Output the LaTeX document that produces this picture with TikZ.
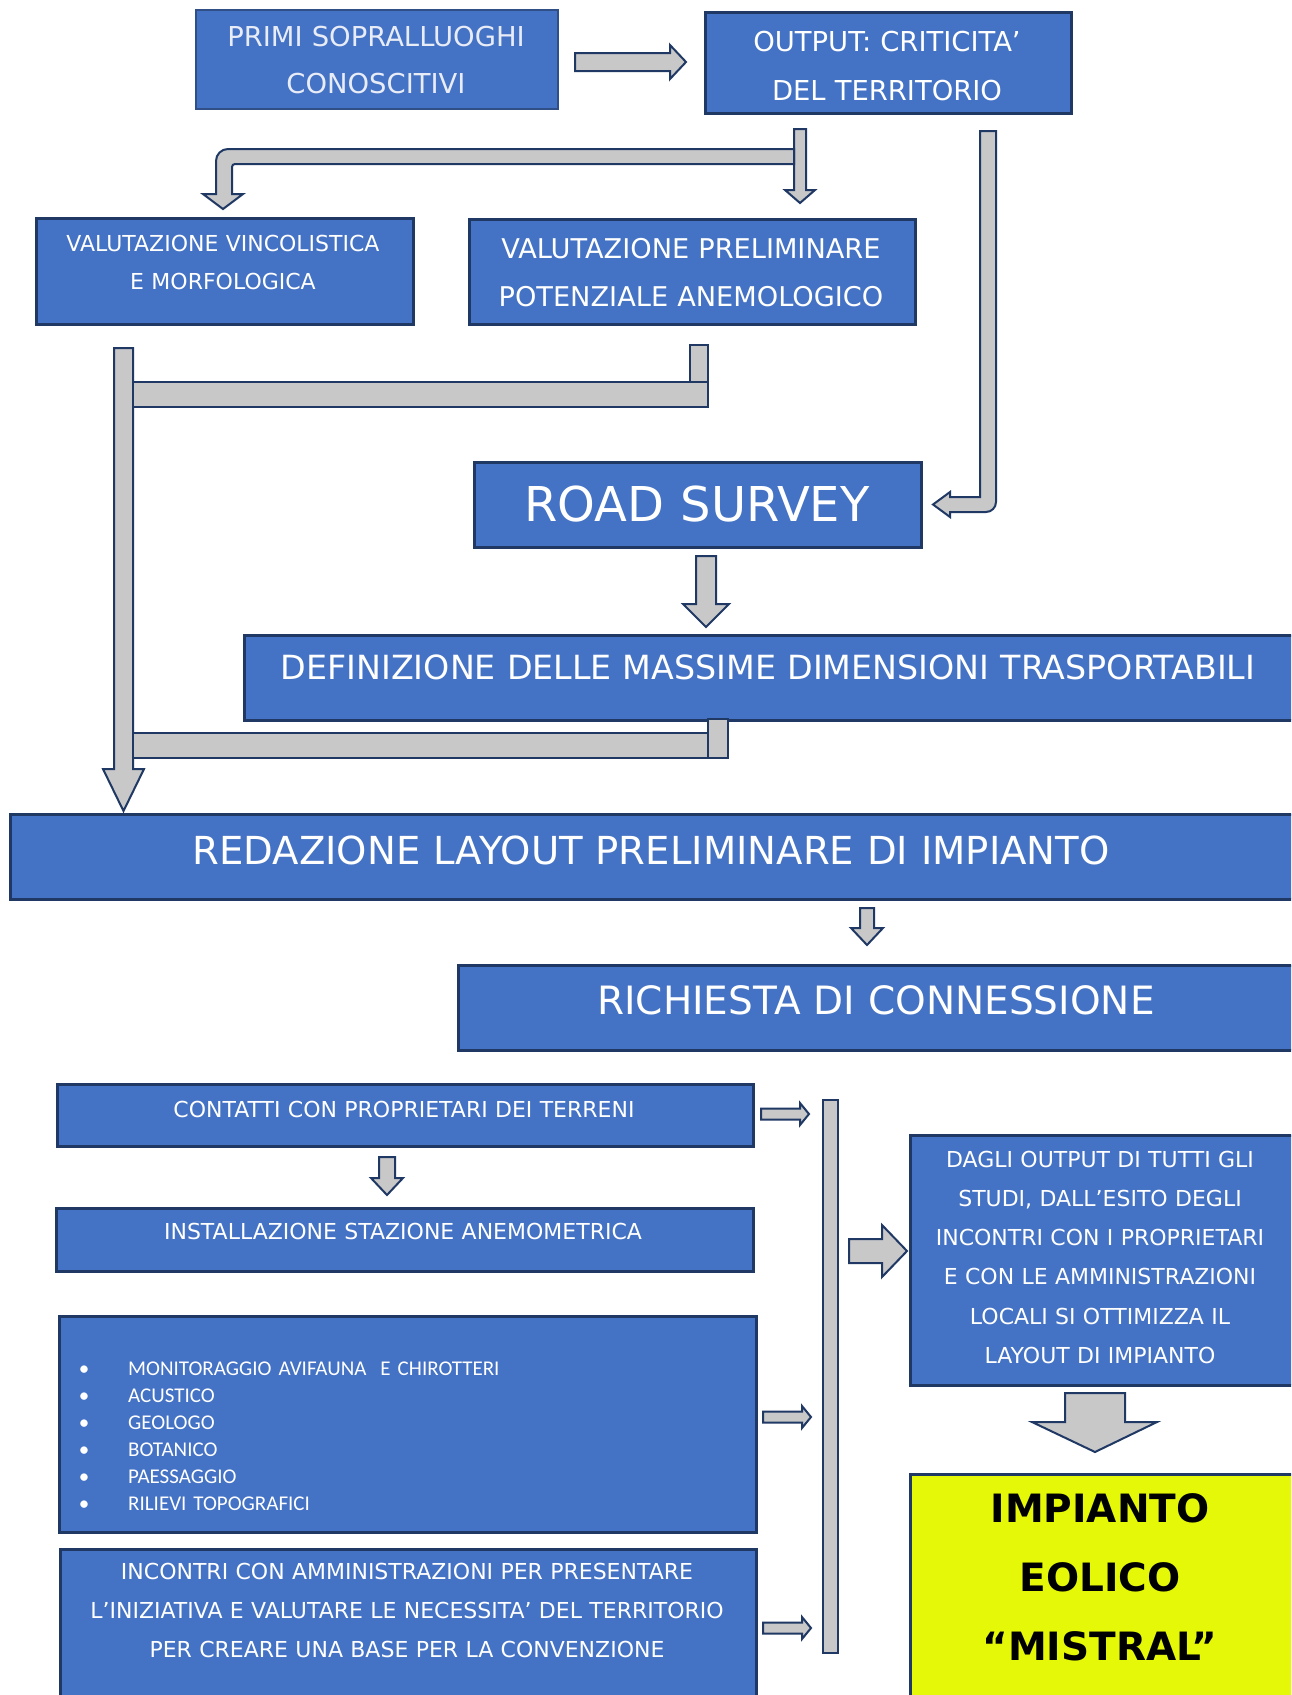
\documentclass[tikz,border=0pt]{standalone}
\usepackage{fontspec}
\setmainfont{DejaVu Sans}
\newfontfamily\calibrifont{Carlito}

\definecolor{boxblue}{HTML}{4472C4}
\definecolor{navy}{HTML}{1F3864}
\definecolor{edgeblue}{HTML}{2F4F86}
\definecolor{arrowgray}{HTML}{C8C8C8}
\definecolor{limebox}{HTML}{E4F807}
\definecolor{paletext}{HTML}{E8ECF7}

\begin{document}
\begin{tikzpicture}[x=1pt,y=-1pt,
  box/.style={draw=navy, fill=boxblue, line width=2.5pt, inner sep=0pt, anchor=north west},
  blk/.style={draw=navy, fill=arrowgray, line width=2pt, line join=miter},
  lbl/.style={text=white, anchor=base, align=center, inner sep=0pt, text width=1200pt},
  f22/.style={font=\fontsize{22}{39.3}\selectfont},
]
\useasboundingbox (0,0) rectangle (1291,1695);
\clip (0,0) rectangle (1291,1695);
\fill[white] (0,0) rectangle (1291,1695);

% ---------- boxes ----------
\node[box, draw=edgeblue, line width=2pt, minimum width=362pt, minimum height=99pt] (b1) at (195,9) {};
\node[box, minimum width=366pt, minimum height=101pt] (b2) at (704,11) {};
\node[box, minimum width=377pt, minimum height=106pt] (b3) at (35,217) {};
\node[box, minimum width=446pt, minimum height=105pt] (b4) at (468,218) {};
\node[box, minimum width=447pt, minimum height=85pt] (road) at (473,461) {};
\node[box, minimum width=1080pt, minimum height=85pt] (def) at (243,634) {};
\node[box, minimum width=1300pt, minimum height=85pt] (red) at (9,813) {};
\node[box, minimum width=860pt, minimum height=85pt] (rich) at (457,964) {};
\node[box, minimum width=696pt, minimum height=62pt] (cont) at (56,1083) {};
\node[box, minimum width=697pt, minimum height=63pt] (inst) at (55,1207) {};
\node[box, minimum width=697pt, minimum height=216pt] (mon) at (58,1315) {};
\node[box, minimum width=696pt, minimum height=180pt] (inc) at (59,1548) {};
\node[box, minimum width=400pt, minimum height=250pt] (dagli) at (909,1134) {};
\node[box, fill=limebox, minimum width=400pt, minimum height=240pt] (mistral) at (909,1473) {};

% ---------- texts ----------
\node[lbl, text=paletext, font=\fontsize{27.4}{47}\selectfont] (b1t) at (376,46) {PRIMI SOPRALLUOGHI\\CONOSCITIVI};
\node[lbl, font=\fontsize{27.4}{49}\selectfont] (b2t) at (887,51) {OUTPUT: CRITICITA’\\DEL TERRITORIO};
\node[lbl, font=\fontsize{22}{38}\selectfont] (b3t) at (223,251) {VALUTAZIONE VINCOLISTICA\\E MORFOLOGICA};
\node[lbl, font=\fontsize{27.2}{48}\selectfont] (b4t) at (691,258) {VALUTAZIONE PRELIMINARE\\POTENZIALE ANEMOLOGICO};
\node[lbl, font=\fontsize{48}{56}\selectfont] (roadt) at (697,521) {ROAD SURVEY};
\node[lbl, font=\fontsize{33.3}{40}\selectfont] (deft) at (768,679) {DEFINIZIONE DELLE MASSIME DIMENSIONI TRASPORTABILI};
\node[lbl, font=\fontsize{38.6}{46}\selectfont] (redt) at (651,864) {REDAZIONE LAYOUT PRELIMINARE DI IMPIANTO};
\node[lbl, font=\fontsize{39}{46}\selectfont] (richt) at (876,1014) {RICHIESTA DI CONNESSIONE};
\node[lbl, f22] (contt) at (404,1117) {CONTATTI CON PROPRIETARI DEI TERRENI};
\node[lbl, f22] (instt) at (403,1239) {INSTALLAZIONE STAZIONE ANEMOMETRICA};
\node[lbl, f22] (inct) at (407,1579) {INCONTRI CON AMMINISTRAZIONI PER PRESENTARE\\L’INIZIATIVA E VALUTARE LE NECESSITA’ DEL TERRITORIO\\PER CREARE UNA BASE PER LA CONVENZIONE};
\node[lbl, f22] (daglit) at (1100,1167) {DAGLI OUTPUT DI TUTTI GLI\\STUDI, DALL’ESITO DEGLI\\INCONTRI CON I PROPRIETARI\\E CON LE AMMINISTRAZIONI\\LOCALI SI OTTIMIZZA IL\\LAYOUT DI IMPIANTO};
\node[lbl, text=black, font=\bfseries\fontsize{39}{69}\selectfont] (mistralt) at (1100,1522) {IMPIANTO\\EOLICO\\“MISTRAL”};

% bullet list
\node[lbl, text width=20pt, font=\calibrifont\fontsize{21}{27}\selectfont] (monb) at (84,1375)
  {•\\•\\•\\•\\•\\•};
\node[lbl, anchor=base west, align=left, text width=600pt, font=\calibrifont\fontsize{21}{27}\selectfont] (mont) at (128,1375)
  {MONITORAGGIO AVIFAUNA\ \ E CHIROTTERI\\ACUSTICO\\GEOLOGO\\BOTANICO\\PAESSAGGIO\\RILIEVI TOPOGRAFICI};

% ---------- block arrows ----------
% first survey -> output
\draw[blk] (575,53) -- (670,53) -- (670,45) -- (686,62) -- (670,79) -- (670,71) -- (575,71) -- cycle;
% output -> potential wind study
\draw[blk] (794,129) -- (806,129) -- (806,190) -- (815,190) -- (800,203) -- (785,190) -- (794,190) -- cycle;
% output -> constraints study (bent)
\draw[blk] (794,149) -- (228,149) .. controls (221.4,149) and (216,154.4) .. (216,161)
  -- (216,194) -- (203,194) -- (223,209) -- (243,194) -- (232,194) -- (232,167)
  .. controls (232,165.3) and (233.3,164) .. (235,164) -- (794,164) -- cycle;
% output -> road survey (long bent)
\draw[blk] (980,131) -- (996,131) -- (996,502) .. controls (996,507.5) and (991.5,512) .. (986,512)
  -- (950,512) -- (950,517) -- (933,504.5) -- (950,492) -- (950,497) -- (980,497) -- cycle;
% left collector -> layout
\draw[blk] (114,348) -- (133,348) -- (133,769) -- (144,769) -- (123.5,811) -- (103,769) -- (114,769) -- cycle;
\draw[blk] (690,345) rectangle (708,382);
\draw[blk] (133,382) rectangle (708,407);
\draw[blk] (708,719) rectangle (728,758);
\draw[blk] (133,733) rectangle (708,758);
% road survey -> transport limits
\draw[blk] (696,556) -- (716,556) -- (716,604) -- (729,604) -- (706,627) -- (683,604) -- (696,604) -- cycle;
% layout -> grid connection
\draw[blk] (860,908) -- (874,908) -- (874,928) -- (883,928) -- (867,945) -- (851,928) -- (860,928) -- cycle;
% landowners -> met station
\draw[blk] (379,1157) -- (395,1157) -- (395,1178) -- (403,1178) -- (387,1195) -- (371,1178) -- (379,1178) -- cycle;
% small arrows into the vertical collector
\draw[blk] (761,1108.5) -- (800,1108.5) -- (800,1103) -- (809,1114) -- (800,1125) -- (800,1119.5) -- (761,1119.5) -- cycle;
\draw[blk] (763,1411.5) -- (802,1411.5) -- (802,1406) -- (811,1417) -- (802,1428) -- (802,1422.5) -- (763,1422.5) -- cycle;
\draw[blk] (763,1622.5) -- (802,1622.5) -- (802,1617) -- (811,1628) -- (802,1639) -- (802,1633.5) -- (763,1633.5) -- cycle;
\draw[blk] (823,1100) rectangle (838,1653);
% collector -> optimisation
\draw[blk] (849,1239) -- (882,1239) -- (882,1225) -- (907,1251) -- (882,1277) -- (882,1263) -- (849,1263) -- cycle;
% optimisation -> wind farm
\draw[blk] (1065,1393) -- (1125,1393) -- (1125,1422) -- (1157,1422) -- (1095,1452) -- (1032,1422) -- (1065,1422) -- cycle;
\end{tikzpicture}
\end{document}
